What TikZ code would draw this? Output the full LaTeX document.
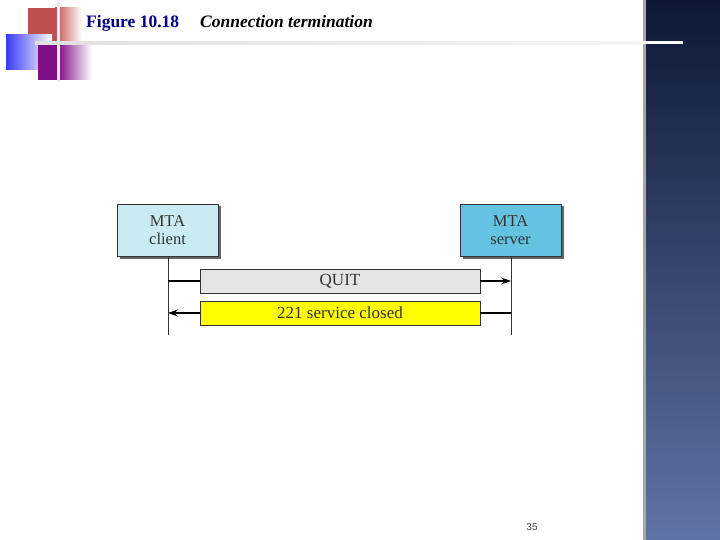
\documentclass[tikz,border=0pt]{standalone}
\usepackage{fontspec}
\setmainfont{Liberation Serif}
\newfontfamily\sansf{Liberation Sans}
\usetikzlibrary{arrows.meta,shadows}
\definecolor{navytop}{HTML}{0E1836}
\definecolor{navybot}{HTML}{5F74A6}
\definecolor{titleblue}{HTML}{000080}
\definecolor{decored}{HTML}{C0504D}
\definecolor{decoblue}{HTML}{3A3AF5}
\definecolor{decopurple}{HTML}{7F0F86}
\definecolor{clientfill}{HTML}{CBEBF3}
\definecolor{serverfill}{HTML}{63C3E0}
\definecolor{quitfill}{HTML}{E4E4E4}
\definecolor{closefill}{HTML}{FFFF00}
\definecolor{boxline}{HTML}{333333}
\tikzset{
  mtabox/.style={draw=boxline, line width=0.7pt, minimum width=101pt, minimum height=52pt,
    inner sep=0pt, align=center, font=\fontsize{16.5}{18}\selectfont, text=black!80,
    drop shadow={shadow xshift=2.5pt, shadow yshift=-2.5pt, fill=black!60, opacity=1}},
  msgbox/.style={draw=boxline, line width=0.7pt, minimum width=280pt, minimum height=24pt,
    inner sep=0pt, font=\fontsize{17}{18}\selectfont, text=black!80},
  lifeline/.style={draw=black!80, line width=0.8pt},
  msg/.style={draw=black, line width=1.1pt},
  tip/.style={-{Stealth[length=10pt,width=7pt]}}
}
\begin{document}
\begin{tikzpicture}[x=1pt,y=-1pt]
\useasboundingbox (0,0) rectangle (720,540);
\fill[white] (0,0) rectangle (720,540);
% right panel
\shade[top color=navytop, bottom color=navybot] (643,0) rectangle (720,540);
\fill[black!35] (643,0) rectangle (645.5,540);
\fill[white] (643,41.5) rectangle (683,44.5);
% top-left decoration
\fill[decored] (28,8) rectangle (55,43);
\shade[left color=decored, right color=white] (55,8) rectangle (82,43);
\shade[left color=decoblue, right color=white] (6,35) rectangle (52,70);
\fill[decopurple] (38,43) rectangle (58,80);
\shade[left color=decopurple, right color=white] (58,43) rectangle (92,80);
\fill[white!93!black] (56.5,0) rectangle (59.5,82);
\shade[left color=white!88!black, right color=white!96!black] (35,41.5) rectangle (640,44.5);
% title
\node[anchor=base west, inner sep=0pt, text=titleblue, font=\fontsize{17.5}{20}\selectfont\bfseries] (fig) at (86,28) {Figure 10.18};
\node[anchor=base west, inner sep=0pt, font=\fontsize{17.5}{20}\selectfont\bfseries\itshape] (cap) at (200,28) {Connection termination};
% boxes
\node[mtabox, fill=clientfill] (client) at (167.5,230) {MTA\\client};
\node[mtabox, fill=serverfill] (server) at (510.5,230) {MTA\\server};
\coordinate (cb) at (168,335);
\coordinate (sb) at (511,335);
\draw[lifeline] (168,256) -- (cb);
\draw[lifeline] (511,256) -- (sb);
% messages
\node[msgbox, fill=quitfill] (quit) at (340,281) {QUIT};
\node[msgbox, fill=closefill] (closed) at (340,313) {221 service closed};
\coordinate (q1) at (168,281);
\coordinate (q2) at (511,281);
\coordinate (c1) at (168,313);
\coordinate (c2) at (511,313);
\draw[msg] (q1) -- (quit.west);
\draw[msg,tip] (quit.east) -- (q2);
\draw[msg] (c2) -- (closed.east);
\draw[msg,tip] (closed.west) -- (c1);
% page number
\node[inner sep=0pt, text=black!75, font=\sansf\fontsize{10}{11}\selectfont] (pg) at (532,527) {35};
\end{tikzpicture}
\end{document}
